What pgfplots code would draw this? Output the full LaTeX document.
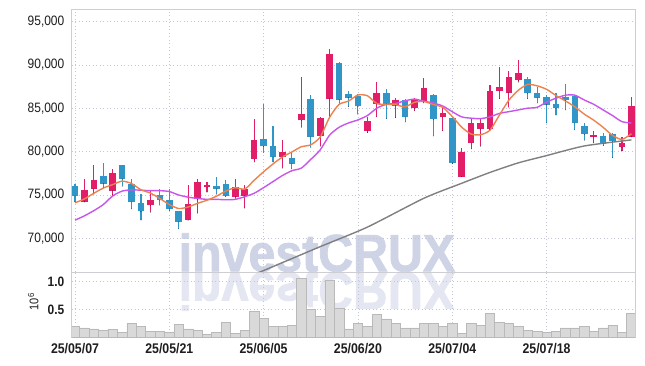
\documentclass[border=0pt]{standalone}
\usepackage{fontspec}
\setmainfont{Liberation Sans}
\newfontfamily\cond[FakeStretch=0.88]{Liberation Sans}
\newfontfamily\wmfont[FakeBold=1.6]{Liberation Sans Bold}
\usepackage{pgfplots}
\usepackage{pgfplotstable}
\pgfplotsset{compat=1.18}
\definecolor{upcol}{RGB}{226,30,104}
\definecolor{dncol}{RGB}{48,150,200}
\definecolor{mafive}{RGB}{236,130,80}
\definecolor{matwenty}{RGB}{200,85,235}
\definecolor{masixty}{RGB}{128,128,128}
\definecolor{gridcol}{RGB}{196,198,216}
\definecolor{bordcol}{RGB}{205,205,210}
\definecolor{volfill}{RGB}{217,217,217}
\definecolor{voledge}{RGB}{185,185,185}
\definecolor{wm}{RGB}{206,211,230}
\definecolor{wmr}{RGB}{228,231,242}
\definecolor{lab}{RGB}{30,30,30}

\pgfplotsset{candle/.style={only marks, mark=*, mark size=0.01pt,
  mark options={draw=none, fill=none}, forget plot,
  error bars/.cd, y dir=plus, y explicit, error mark=none}}

\pgfplotstableread{
x o h l c
1 74200 76900 74200 75600
2 75700 78400 75100 76700
4 75500 78000 75000 77500
8 73800 75500 73000 74400
12 72100 76200 72100 74000
13 74500 76800 72900 76500
14 75900 76500 75300 76200
17 74800 76900 74600 75900
18 74900 76200 73500 75700
19 79100 83800 78800 81300
22 79400 81300 78100 79900
24 83600 88600 82800 84300
26 81800 84000 80600 83900
27 86100 91800 84100 91300
31 82400 84000 82200 83500
32 85500 88000 84000 86800
34 85300 86200 83900 86000
36 85000 86200 84700 86100
37 85800 88500 85600 87300
39 84000 85000 82400 84400
41 77100 80400 77100 80000
42 81000 83700 80300 83300
43 82600 83800 80600 83300
44 82600 87700 82500 87000
45 87000 89700 86100 87400
46 86800 89300 85100 88600
47 88200 90500 88000 89000
55 81700 82400 81000 81900
58 80500 81700 80100 81000
59 81700 86300 81700 85300
}\up

\pgfplotstableread{
x o h l c
0 76000 76300 74200 74900
3 77200 78700 75900 76300
5 78400 78500 76000 76900
6 76300 76900 73400 74200
7 74100 75100 72100 73100
9 75000 75700 73800 74400
10 74400 75700 73200 73400
11 73100 73100 71100 71900
15 76000 77100 75100 75700
16 76300 76700 74800 74900
20 81500 85500 79900 80600
21 80700 82900 78800 79400
23 79300 79800 78000 78600
25 86100 86500 80500 81700
28 90200 90300 85600 86000
29 86600 87000 85200 86200
30 86400 86600 84300 85200
33 86800 87200 83800 85500
35 86000 86100 83400 84000
38 86500 86600 81800 83700
40 83900 84000 78600 78700
48 88400 88600 86100 86700
49 86700 87400 85600 86200
50 86300 86500 83300 85400
51 85500 86700 84200 85000
52 86300 87800 84800 85900
53 86400 86500 82500 83300
54 83000 83300 81300 82000
56 81800 82200 80700 80900
57 82000 82200 79300 81200
}\down

\pgfplotstableread{
x m5 m20
0 74100 72100
1 74550 72600
2 75200 73200
3 75800 73900
4 76200 74900
5 76600 75450
6 76320 75600
7 75600 75550
8 75220 75500
9 74600 75500
10 73900 75400
11 73440 75000
12 73620 74750
13 74040 74600
14 74400 74500
15 74860 74500
16 75460 74450
17 75840 74500
18 75680 74800
19 76700 75200
20 77680 75850
21 78580 76550
22 79380 77250
23 79960 77800
24 80560 78100
25 80780 79100
26 81680 80200
27 83960 81900
28 85440 82800
29 85820 83300
30 86520 83650
31 86440 84150
32 85540 85000
33 85440 85450
34 85400 85550
35 85160 85850
36 85680 86050
37 85780 85800
38 85420 85600
39 85100 85250
40 84040 84600
41 82820 84000
42 82020 83850
43 81940 83800
44 82460 84000
45 84200 84400
46 85920 84600
47 87060 84800
48 87740 85000
49 87580 85100
50 87180 85700
51 86460 86150
52 85840 86500
53 85160 86500
54 84320 85950
55 83620 85450
56 82800 84800
57 81860 84150
58 81400 83450
59 82060 83300
}\ma

\pgfplotstableread{
x m
14 63600
20 66300
26 69050
31 71300
37 74630
41 76350
44 77600
47 78700
50 79540
54 80650
59 81350
}\masix

\pgfplotstableread{
x v
0 0.20
1 0.17
2 0.15
3 0.13
4 0.14
5 0.09
6 0.25
7 0.19
8 0.11
9 0.11
10 0.09
11 0.23
12 0.15
13 0.13
14 0.05
15 0.09
16 0.27
17 0.07
18 0.13
19 0.47
20 0.34
21 0.20
22 0.20
23 0.22
24 1.06
25 0.50
26 0.38
27 1.03
28 0.52
29 0.15
30 0.25
31 0.20
32 0.41
33 0.33
34 0.25
35 0.17
36 0.17
37 0.25
38 0.25
39 0.19
40 0.25
41 0.07
42 0.25
43 0.22
44 0.43
45 0.27
46 0.25
47 0.20
48 0.13
49 0.11
50 0.09
51 0.11
52 0.17
53 0.17
54 0.19
55 0.11
56 0.17
57 0.22
58 0.09
59 0.43
}\vol

\begin{document}
\begin{tikzpicture}
\useasboundingbox (0,0) rectangle (645bp,366bp);
% watermark and its reflection
\begin{scope}[shift={(178.5bp,94.7bp)}, xscale=0.92, transform shape]
\node[anchor=base west, inner sep=0pt, text=wm, font=\wmfont\fontsize{52.5bp}{54bp}\selectfont] at (0,0) {investCRUX};
\end{scope}
\begin{scope}[shift={(178.5bp,93.3bp)}, xscale=0.92, yscale=-1, transform shape]
\node[anchor=base west, inner sep=0pt, text=wmr, font=\wmfont\fontsize{52.5bp}{54bp}\selectfont] at (0,0) {investCRUX};
\end{scope}

\begin{axis}[
  at={(71.7bp,94bp)}, anchor=south west, scale only axis,
  width=563.3bp, height=263bp,
  xmin=-0.35, xmax=59.38, ymin=66130, ymax=96430,
  scaled y ticks=false, scaled x ticks=false,
  xtick={0,10,20,30,40,50}, xticklabels={},
  ytick={70000,75000,80000,85000,90000,95000},
  yticklabels={{70,000},{75,000},{80,000},{85,000},{90,000},{95,000}},
  grid=major,
  major grid style={gridcol, line width=0.6bp, dash pattern=on 1bp off 2.5bp},
  axis line style={bordcol, line width=0.8bp},
  tick style={draw=none},
  yticklabel style={anchor=east, inner sep=0pt, xshift=-7.2bp, text=lab,
    font=\cond\fontsize{13.6bp}{15bp}\selectfont},
]
% wicks
\addplot[candle, error bar style={draw=upcol, line width=1.1bp}]
  table[x=x, y=l, y error expr=\thisrow{h}-\thisrow{l}] {\up};
\addplot[candle, error bar style={draw=dncol, line width=1.1bp}]
  table[x=x, y=l, y error expr=\thisrow{h}-\thisrow{l}] {\down};
% bodies
\addplot[candle, error bar style={draw=upcol, line width=6.6bp}]
  table[x=x, y=o, y error expr=\thisrow{c}-\thisrow{o}] {\up};
\addplot[candle, error bar style={draw=dncol, line width=6.6bp}]
  table[x=x, y=c, y error expr=\thisrow{o}-\thisrow{c}] {\down};
% moving averages
\addplot[masixty, line width=1.4bp, smooth, tension=0.4, mark=none] table[x=x, y=m] {\masix};
\addplot[matwenty, line width=1.4bp, smooth, tension=0.4, mark=none] table[x=x, y=m20] {\ma};
\addplot[mafive, line width=1.4bp, smooth, tension=0.4, mark=none] table[x=x, y=m5] {\ma};
\end{axis}

\begin{axis}[
  at={(71.7bp,28.7bp)}, anchor=south west, scale only axis,
  width=563.3bp, height=65.3bp,
  xmin=-0.35, xmax=59.38, ymin=0, ymax=1.175,
  scaled y ticks=false, scaled x ticks=false,
  xtick={0,10,20,30,40,50},
  xticklabels={25/05/07,25/05/21,25/06/05,25/06/20,25/07/04,25/07/18},
  ytick={0.5,1}, yticklabels={0.5,1.0},
  grid=major,
  major grid style={gridcol, line width=0.6bp, dash pattern=on 1bp off 2.5bp},
  axis line style={bordcol, line width=0.8bp},
  tick style={draw=none},
  yticklabel style={anchor=east, inner sep=0pt, xshift=-7.2bp, text=lab,
    font=\cond\bfseries\fontsize{13.6bp}{15bp}\selectfont},
  xticklabel style={anchor=north, inner sep=0pt, yshift=-6.3bp, text=lab,
    font=\cond\bfseries\fontsize{14bp}{15bp}\selectfont},
]
\addplot[ybar, bar width=9.43bp, fill=volfill, draw=voledge, line width=0.5bp] table[x=x, y=v] {\vol};
\end{axis}
\node[rotate=90, text=lab, inner sep=0pt, font=\cond\fontsize{12.5bp}{14bp}\selectfont] at (33.3bp,64.3bp) {10\textsuperscript{6}};
\end{tikzpicture}
\end{document}
